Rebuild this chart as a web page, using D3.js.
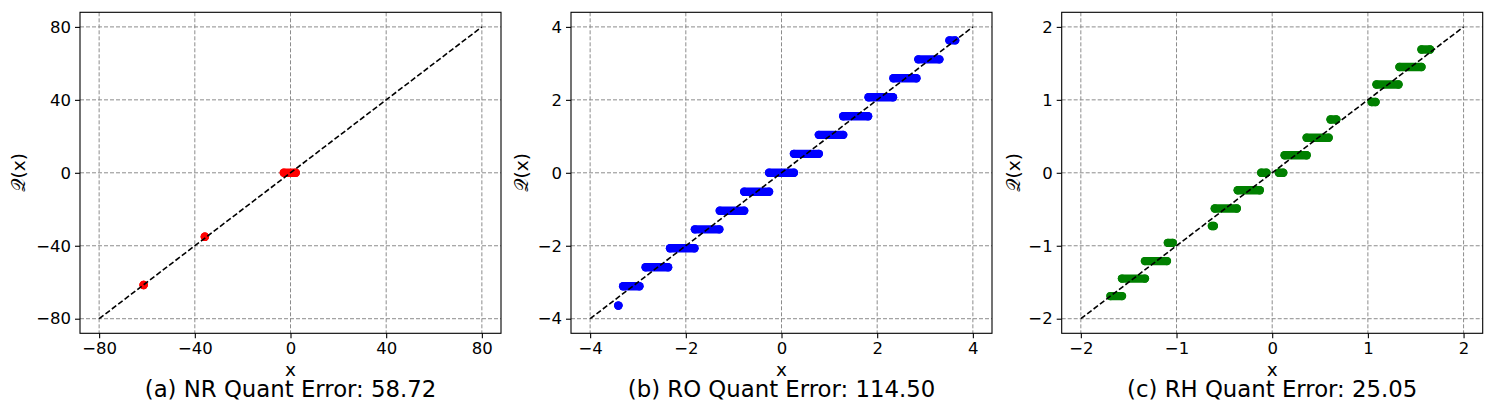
<!DOCTYPE html>
<html>
<head>
<meta charset="utf-8">
<script src="https://cdn.jsdelivr.net/npm/d3@7"></script>
<style>
  body { margin: 0; background: #fff; }
  svg { font-family: "DejaVu Sans", sans-serif; }
</style>
</head>
<body>
<div id="chart"></div>
<script>
// NR panel: runs of quantized points (x from .. to, quantized value)
const nrStart = [-61.4, -35.8, -2.8];
const nrEnd = [-61.4, -35.8, 2.2];
const nrLevel = [-61.5, -35.1, 0];

// RO panel
const roStart = [-3.41, -3.31, -2.84, -2.33, -1.81, -1.29, -0.78, -0.26, 0.26, 0.78, 1.29, 1.82, 2.34, 2.86, 3.51];
const roEnd = [-3.41, -2.97, -2.37, -1.82, -1.30, -0.78, -0.26, 0.26, 0.78, 1.29, 1.81, 2.33, 2.82, 3.30, 3.63];
const roLevel = [-3.64, -3.11, -2.59, -2.07, -1.55, -1.04, -0.52, 0, 0.52, 1.04, 1.55, 2.07, 2.59, 3.11, 3.63];

// RH panel
const rhStart = [-1.69, -1.57, -1.33, -1.09, -0.63, -0.60, -0.36, -0.115, 0.07, 0.13, 0.36, 0.61, 1.04, 1.09, 1.33, 1.56];
const rhEnd = [-1.57, -1.33, -1.10, -1.04, -0.61, -0.37, -0.13, -0.06, 0.115, 0.36, 0.59, 0.67, 1.08, 1.32, 1.56, 1.65];
const rhLevel = [-1.69, -1.45, -1.21, -0.96, -0.73, -0.49, -0.24, 0, 0, 0.24, 0.48, 0.73, 0.97, 1.21, 1.45, 1.69];

const nrTicks = [-80, -40, 0, 40, 80];
const roTicks = [-4, -2, 0, 2, 4];
const rhTicks = [-2, -1, 0, 1, 2];

const captions = ["(a) NR Quant Error: 58.72", "(b) RO Quant Error: 114.50", "(c) RH Quant Error: 25.05"];

const panels = [
  { start: nrStart, end: nrEnd, level: nrLevel, ticks: nrTicks, lim: 80, color: "#ff0000", caption: captions[0], left: 80, labelOff: 55.5 },
  { start: roStart, end: roEnd, level: roLevel, ticks: roTicks, lim: 4, color: "#0000ff", caption: captions[1], left: 571, labelOff: 43.5 },
  { start: rhStart, end: rhEnd, level: rhLevel, ticks: rhTicks, lim: 2, color: "#008000", caption: captions[2], left: 1061.7, labelOff: 42 },
];

const width = 1495;
const height = 415;
const plotW = 421;
const plotTop = 12.3;
const plotBottom = 333.3;
const fmt = (d) => String(d).replace("-", "\u2212");

const svg = d3.select("#chart")
  .append("svg")
  .attr("width", width)
  .attr("height", height);

panels.forEach((p) => {
  const pad = p.lim * 0.1;
  const x = d3.scaleLinear().domain([-p.lim - pad, p.lim + pad]).range([p.left, p.left + plotW]);
  const y = d3.scaleLinear().domain([-p.lim - pad, p.lim + pad]).range([plotBottom, plotTop]);

  const g = svg.append("g");

  // grid
  g.selectAll(".gx").data(p.ticks).join("line")
    .attr("x1", (d) => x(d)).attr("x2", (d) => x(d))
    .attr("y1", plotTop).attr("y2", plotBottom)
    .attr("stroke", "#8c8c8c").attr("stroke-width", 1)
    .attr("stroke-dasharray", "4,2");
  g.selectAll(".gy").data(p.ticks).join("line")
    .attr("y1", (d) => y(d)).attr("y2", (d) => y(d))
    .attr("x1", p.left).attr("x2", p.left + plotW)
    .attr("stroke", "#8c8c8c").attr("stroke-width", 1)
    .attr("stroke-dasharray", "4,2");

  // quantized point runs
  const runs = p.level.map((q, i) => ({ x0: p.start[i], x1: p.end[i], q }));
  g.selectAll(".run").data(runs).join("line")
    .attr("x1", (d) => x(d.x0)).attr("x2", (d) => x(d.x1))
    .attr("y1", (d) => y(d.q)).attr("y2", (d) => y(d.q))
    .attr("stroke", p.color).attr("stroke-width", 8.4)
    .attr("stroke-linecap", "round");
  g.selectAll(".dot").data(runs.flatMap((d) => [[d.x0, d.q], [d.x1, d.q]])).join("circle")
    .attr("cx", (d) => x(d[0])).attr("cy", (d) => y(d[1]))
    .attr("r", 4.2).attr("fill", p.color);

  // identity line
  g.append("line")
    .attr("x1", x(-p.lim)).attr("y1", y(-p.lim))
    .attr("x2", x(p.lim)).attr("y2", y(p.lim))
    .attr("stroke", "#000").attr("stroke-width", 1.6)
    .attr("stroke-dasharray", "5.5,2.5");

  // axes
  const xAxis = g.append("g")
    .attr("transform", `translate(0,${plotBottom})`)
    .call(d3.axisBottom(x).tickValues(p.ticks).tickFormat(fmt).tickSize(5).tickPadding(4));
  const yAxis = g.append("g")
    .attr("transform", `translate(${p.left},0)`)
    .call(d3.axisLeft(y).tickValues(p.ticks).tickFormat(fmt).tickSize(5).tickPadding(4));
  [xAxis, yAxis].forEach((a) => {
    a.select(".domain").remove();
    a.selectAll("text").attr("font-size", 16.5).attr("fill", "#000")
      .attr("font-family", "DejaVu Sans");
    a.selectAll("line").attr("stroke", "#000").attr("stroke-width", 1.1);
  });

  g.append("rect")
    .attr("x", p.left).attr("y", plotTop)
    .attr("width", plotW).attr("height", plotBottom - plotTop)
    .attr("fill", "none").attr("stroke", "#000").attr("stroke-width", 1.1);

  // labels
  const cx = p.left + plotW / 2;
  g.append("text")
    .attr("x", cx).attr("y", 376)
    .attr("text-anchor", "middle").attr("font-size", 18.5)
    .text("x");
  g.append("text")
    .attr("transform", `translate(${p.left - p.labelOff},${(plotTop + plotBottom) / 2}) rotate(-90)`)
    .attr("text-anchor", "middle").attr("font-size", 18.5)
    .text("\u{1D4AC}(x)");
  g.append("text")
    .attr("x", cx).attr("y", 397)
    .attr("text-anchor", "middle").attr("font-size", 22.8)
    .text(p.caption);
});
</script>
</body>
</html>
